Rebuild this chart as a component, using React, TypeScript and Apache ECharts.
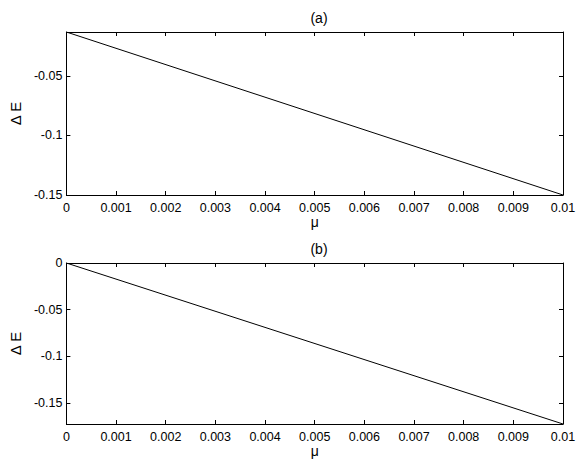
import React, { useEffect, useRef } from "react";
import * as echarts from "echarts";

const mu = [0, 0.01];
const dEa = [-0.0132, -0.15];
const dEb = [0, -0.1728];
const titles = ["(a)", "(b)"];
const xLabel = "μ";
const yLabel = "Δ E";

const FONT = "'Liberation Sans', Arial, Helvetica, sans-serif";

const fmt = (v: number) => String(+v.toFixed(4));
const yFmt = (v: number) =>
  Math.abs(v / 0.05 - Math.round(v / 0.05)) < 1e-6 ? fmt(v) : "";

export default function App() {
  const ref = useRef<HTMLDivElement>(null);
  useEffect(() => {
    document.body.style.margin = "0";
    const chart = echarts.init(ref.current!, null, { renderer: "svg" });
    const grids = [
      { left: 65, top: 32, width: 498, height: 163 },
      { left: 65, top: 263, width: 498, height: 161 },
    ];
    const yRanges = [
      [Math.min(...dEa), Math.max(...dEa)],
      [Math.min(...dEb), Math.max(...dEb)],
    ];
    const axisLine = { show: true, onZero: false, lineStyle: { color: "#000", width: 1 } };
    const tick = { show: true, inside: true, length: 4, lineStyle: { color: "#000" } };
    const xAxes: any[] = [];
    const yAxes: any[] = [];
    grids.forEach((g, i) => {
      xAxes.push({
        type: "value",
        gridIndex: i,
        position: "bottom",
        min: mu[0],
        max: mu[1],
        interval: 0.001,
        name: xLabel,
        nameLocation: "middle",
        nameGap: 19,
        nameTextStyle: { color: "#000", fontSize: 14, fontFamily: FONT },
        axisLine,
        axisTick: tick,
        axisLabel: { color: "#000", fontSize: 12.5, fontFamily: FONT, margin: 6, formatter: fmt, showMinLabel: true, showMaxLabel: true },
        splitLine: { show: false },
      });
      xAxes.push({
        type: "value",
        gridIndex: i,
        position: "top",
        min: mu[0],
        max: mu[1],
        interval: 0.001,
        axisLine,
        axisTick: tick,
        axisLabel: { show: false },
        splitLine: { show: false },
      });
      yAxes.push({
        type: "value",
        gridIndex: i,
        position: "left",
        min: yRanges[i][0],
        max: yRanges[i][1],
        splitNumber: 3,
        name: yLabel,
        nameLocation: "middle",
        nameGap: 43,
        nameRotate: 90,
        nameTextStyle: { color: "#000", fontSize: 15, fontFamily: FONT },
        axisLine,
        axisTick: tick,
        axisLabel: { color: "#000", fontSize: 12.5, fontFamily: FONT, margin: 4, formatter: yFmt },
        splitLine: { show: false },
      });
      yAxes.push({
        type: "value",
        gridIndex: i,
        position: "right",
        min: yRanges[i][0],
        max: yRanges[i][1],
        splitNumber: 3,
        axisLine,
        axisTick: tick,
        axisLabel: { show: false },
        splitLine: { show: false },
      });
    });
    const series = [dEa, dEb].map((d, i) => ({
      type: "line",
      xAxisIndex: i * 2,
      yAxisIndex: i * 2,
      data: mu.map((m, k) => [m, d[k]]),
      showSymbol: false,
      symbol: "none",
      lineStyle: { color: "#000", width: 1 },
      silent: true,
    }));
    chart.setOption({
      animation: false,
      backgroundColor: "#fff",
      title: titles.map((t, i) => ({
        text: t,
        left: 314,
        top: i === 0 ? 6 : 237,
        textAlign: "center",
        textStyle: { color: "#000", fontSize: 14, fontWeight: "normal", fontFamily: FONT },
      })),
      grid: grids,
      xAxis: xAxes,
      yAxis: yAxes,
      series,
    });
    return () => chart.dispose();
  }, []);
  return <div ref={ref} style={{ width: 581, height: 463 }} />;
}
